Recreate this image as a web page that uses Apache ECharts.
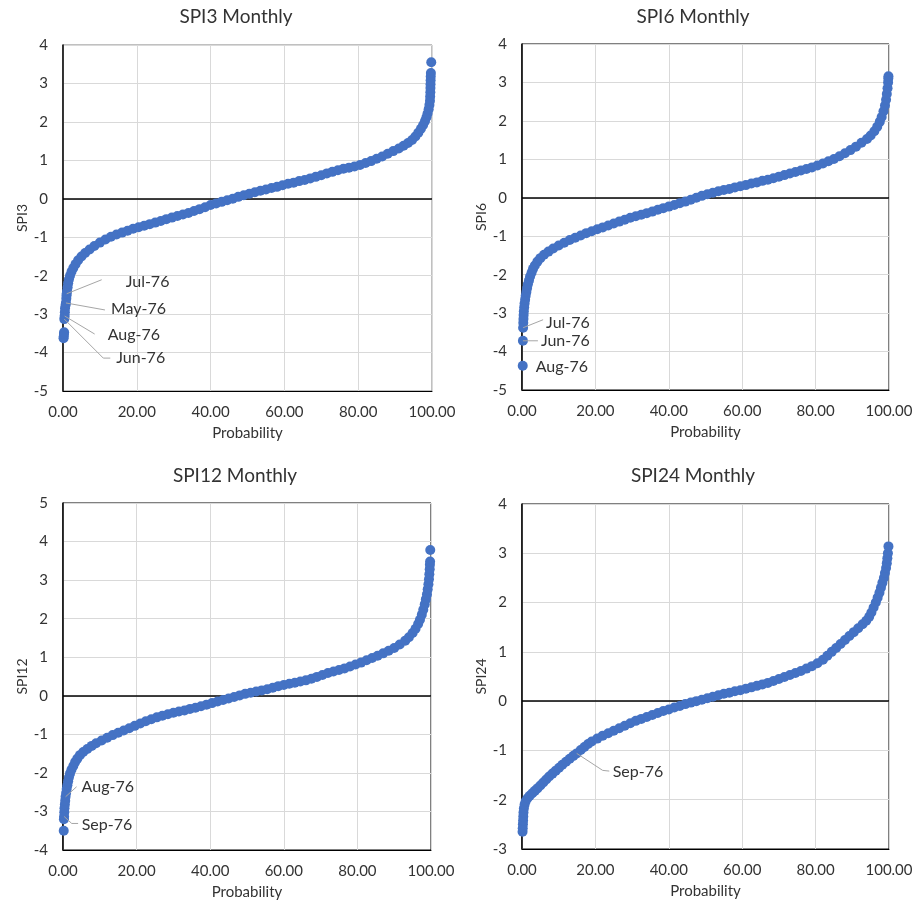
<!DOCTYPE html>
<html><head><meta charset="utf-8">
<script src="https://cdn.jsdelivr.net/npm/echarts@6/dist/echarts.min.js"></script>
<style>html,body{margin:0;padding:0;background:#fff}#c{width:916px;height:908px}</style>
</head><body><div id="c"></div>
<script>
// ---------------- data ----------------
const panelTitles = ['SPI3 Monthly', 'SPI6 Monthly', 'SPI12 Monthly', 'SPI24 Monthly'];
const yAxisNames = ['SPI3', 'SPI6', 'SPI12', 'SPI24'];
const xAxisName = 'Probability';
const xMin = 0, xMax = 100, xStep = 20;
const yMins = [-5, -5, -4, -3];
const yMaxs = [4, 4, 5, 4];

const spi3Points = [
 [0.15,-3.63],[0.2,-3.58],[0.25,-3.52],[0.3,-3.47],
 [0.35,-3.13],[0.45,-3.05],[0.5,-2.95],[0.55,-2.85],[0.7,-2.76],[0.8,-2.71],[0.9,-2.6],[0.95,-2.52],[1.0,-2.47],[1.1,-2.4],
 [1.25,-2.3],[1.4,-2.2],[1.6,-2.1],[1.9,-2.0],[2.3,-1.9],[2.8,-1.8],[3.4,-1.7],[4.1,-1.6],[5.0,-1.5],[6.0,-1.41],[7.2,-1.32],
 [8.5,-1.23],[10,-1.14],[11.5,-1.06],[13,-0.99],[14.5,-0.93],[16,-0.88],[17.5,-0.83],[19,-0.78],[20.5,-0.74],[22,-0.7],
 [23.5,-0.66],[25,-0.62],[26.5,-0.58],[28,-0.53],[29.5,-0.49],[31,-0.45],[32.5,-0.41],[34,-0.37],[35.5,-0.32],[37,-0.27],
 [38.5,-0.22],[40,-0.16],[41.5,-0.12],[43,-0.08],[44.5,-0.04],[46,0.0],[47.5,0.05],[49,0.09],[50.5,0.13],[52,0.17],
 [53.5,0.21],[55,0.24],[56.5,0.28],[58,0.31],[59.5,0.35],[61,0.39],[62.5,0.42],[64,0.46],[65.5,0.49],[67,0.53],[68.5,0.57],
 [70,0.61],[71.5,0.66],[73,0.7],[74.5,0.74],[76,0.78],[77.5,0.81],[79,0.84],[80.5,0.88],[82,0.93],[83.5,0.98],[85,1.04],
 [86.5,1.1],[88,1.17],[89.5,1.24],[91,1.31],[92.3,1.38],[93.5,1.45],[94.6,1.53],[95.5,1.62],[96.3,1.72],[97,1.82],[97.6,1.92],
 [98.1,2.02],[98.5,2.12],[98.8,2.22],[99.1,2.33],[99.3,2.44],[99.45,2.55],[99.5,2.66],[99.55,2.77],[99.58,2.88],[99.6,2.98],
 [99.63,3.08],[99.66,3.18],[99.7,3.27],[99.8,3.55]
];
const spi6Points = [
 [0.2,-4.37],[0.25,-3.72],[0.3,-3.38],
 [0.35,-3.25],[0.4,-3.15],[0.45,-3.05],[0.5,-2.95],[0.6,-2.85],[0.7,-2.75],[0.85,-2.65],[1.0,-2.55],[1.2,-2.45],[1.4,-2.35],
 [1.6,-2.25],[1.9,-2.15],[2.2,-2.05],[2.6,-1.95],[3.0,-1.85],[3.5,-1.76],[4.2,-1.66],[5.0,-1.57],[6.0,-1.48],[7.2,-1.4],
 [8.5,-1.32],[10,-1.24],[11.5,-1.17],[13,-1.1],[14.5,-1.04],[16,-0.98],[17.5,-0.92],[19,-0.87],[20.5,-0.82],[22,-0.77],
 [23.5,-0.72],[25,-0.67],[26.5,-0.62],[28,-0.57],[29.5,-0.52],[31,-0.48],[32.5,-0.44],[34,-0.4],[35.5,-0.36],[37,-0.31],
 [38.5,-0.27],[40,-0.23],[41.5,-0.19],[43,-0.14],[44.5,-0.1],[46,-0.05],[47.5,0.0],[49,0.05],[50.5,0.09],[52,0.13],
 [53.5,0.17],[55,0.2],[56.5,0.23],[58,0.27],[59.5,0.3],[61,0.33],[62.5,0.37],[64,0.4],[65.5,0.44],[67,0.47],[68.5,0.51],
 [70,0.55],[71.5,0.59],[73,0.63],[74.5,0.67],[76,0.71],[77.5,0.75],[79,0.79],[80.5,0.84],[82,0.89],[83.5,0.95],[85,1.01],
 [86.5,1.08],[88,1.16],[89.5,1.24],[91,1.33],[92.5,1.43],[94,1.53],[95,1.62],[96,1.73],[96.8,1.85],[97.5,1.98],[98,2.1],
 [98.5,2.25],[98.9,2.4],[99.2,2.55],[99.4,2.7],[99.6,2.85],[99.75,3.0],[99.8,3.1],[99.85,3.16]
];
const spi12Points = [
 [0.2,-3.5],[0.25,-3.2],[0.3,-3.13],[0.35,-3.02],[0.4,-2.92],[0.5,-2.82],[0.6,-2.72],[0.7,-2.62],[0.85,-2.52],[1.0,-2.42],
 [1.2,-2.32],[1.4,-2.22],[1.6,-2.12],[1.9,-2.02],[2.3,-1.92],[2.8,-1.82],[3.3,-1.72],[3.9,-1.63],[4.6,-1.54],[5.5,-1.46],
 [6.6,-1.38],[7.8,-1.3],[9,-1.23],[10.5,-1.16],[12,-1.09],[13.5,-1.02],[15,-0.96],[16.5,-0.9],[18,-0.84],[19.5,-0.78],
 [21,-0.72],[22.5,-0.66],[24,-0.61],[25.5,-0.56],[27,-0.52],[28.5,-0.48],[30,-0.44],[31.5,-0.41],[33,-0.38],[34.5,-0.34],
 [36,-0.31],[37.5,-0.27],[39,-0.23],[40.5,-0.19],[42,-0.15],[43.5,-0.11],[45,-0.07],[46.5,-0.03],[48,0.01],[49.5,0.05],
 [51,0.08],[52.5,0.11],[54,0.14],[55.5,0.17],[57,0.21],[58.5,0.25],[60,0.28],[61.5,0.31],[63,0.34],[64.5,0.37],[66,0.4],
 [67.5,0.44],[69,0.49],[70.5,0.54],[72,0.59],[73.5,0.63],[75,0.67],[76.5,0.71],[78,0.76],[79.5,0.81],[81,0.86],[82.5,0.92],
 [84,0.98],[85.5,1.04],[87,1.1],[88.5,1.17],[90,1.24],[91.5,1.33],[93,1.43],[94,1.52],[95,1.63],[95.8,1.74],[96.5,1.86],
 [97,1.97],[97.5,2.1],[97.9,2.23],[98.3,2.37],[98.6,2.5],[98.9,2.63],[99.1,2.76],[99.3,2.89],[99.45,3.02],[99.55,3.15],
 [99.65,3.28],[99.7,3.4],[99.75,3.48],[99.8,3.78]
];
const spi24Points = [
 [0.15,-2.65],[0.2,-2.58],[0.25,-2.5],[0.3,-2.42],[0.35,-2.34],[0.4,-2.26],[0.5,-2.18],[0.7,-2.1],[1.0,-2.03],[1.5,-1.97],
 [2.1,-1.92],[2.8,-1.87],[3.5,-1.82],[4.2,-1.77],[5.0,-1.71],[5.8,-1.65],[6.6,-1.59],[7.4,-1.53],[8.3,-1.47],[9.2,-1.41],
 [10.1,-1.35],[11,-1.29],[12,-1.23],[13,-1.17],[14,-1.11],[14.9,-1.06],[16,-0.99],[17,-0.93],[18,-0.87],[19,-0.82],[20.5,-0.76],
 [22,-0.7],[23.5,-0.65],[25,-0.6],[26.5,-0.55],[28,-0.5],[29.5,-0.45],[31,-0.4],[32.5,-0.36],[34,-0.32],[35.5,-0.28],
 [37,-0.24],[38.5,-0.2],[40,-0.17],[41.5,-0.13],[43,-0.1],[44.5,-0.06],[46,-0.03],[47.5,0.0],[49,0.03],[50.5,0.06],[52,0.09],
 [53.5,0.12],[55,0.15],[56.5,0.17],[58,0.2],[59.5,0.22],[61,0.25],[62.5,0.28],[64,0.31],[65.5,0.34],[67,0.37],[68.5,0.41],
 [70,0.45],[71.5,0.49],[73,0.53],[74.5,0.57],[76,0.61],[77.5,0.66],[79,0.71],[80.5,0.77],[82,0.84],[83.2,0.92],[84.4,1.0],
 [85.6,1.08],[86.8,1.16],[88,1.24],[89.2,1.32],[90.4,1.4],[91.6,1.48],[92.8,1.56],[93.8,1.63],[94.6,1.71],[95.2,1.8],
 [95.8,1.9],[96.4,2.0],[96.9,2.1],[97.4,2.2],[97.8,2.3],[98.2,2.4],[98.6,2.5],[98.9,2.6],[99.2,2.7],[99.4,2.8],[99.55,2.9],
 [99.7,3.0],[99.85,3.14]
];

// labelled months (name, [probability, SPI])
const spi3NoteNames = ['Jul-76', 'May-76', 'Aug-76', 'Jun-76'];
const spi3NotePoints = [[1.0,-2.47],[0.8,-2.71],[0.45,-3.05],[0.35,-3.13]];
const spi6NoteNames = ['Jul-76', 'Jun-76', 'Aug-76'];
const spi6NotePoints = [[0.3,-3.38],[0.25,-3.72],[0.2,-4.37]];
const spi12NoteNames = ['Aug-76', 'Sep-76'];
const spi12NotePoints = [[0.7,-2.62],[0.3,-3.13]];
const spi24NoteNames = ['Sep-76'];
const spi24NotePoints = [[14.9,-1.06]];

// ---------------- layout / style ----------------
const FONT = 'Lato';
const TXT = '#333333';
const BLUE = '#4472C4';
const grids = [
  {left: 63, top: 45, width: 369, height: 346, borderColor: '#808080'},
  {left: 522, top: 44, width: 367, height: 346, borderColor: '#000'},
  {left: 63, top: 503, width: 368, height: 347, borderColor: '#000'},
  {left: 522, top: 504, width: 367, height: 345, borderColor: '#000'}
];
const titlePos = [[236, 7], [693, 7], [235, 466], [693, 466]];
// leader-line bends and text anchors, relative to the labelled point (pixels)
const noteLayouts = [
  [ {line: [[35,-14]], text: [59,-12]},
    {line: [[39,7]], text: [45,6]},
    {line: [[30,18]], text: [43,19]},
    {line: [[39,39],[46,39]], text: [52,39]} ],
  [ {line: [[20,-8]], text: [23,-5]},
    {line: [[15,0]], text: [18,0]},
    {line: [], text: [13,1]} ],
  [ {line: [[11,-10]], text: [16,-9.5]},
    {line: [[7.6,7],[14,7]], text: [17.6,8]} ],
  [ {line: [[26,17],[32.6,17.7]], text: [36,18.4]} ]
];

const allPoints = [spi3Points, spi6Points, spi12Points, spi24Points];
const allNoteNames = [spi3NoteNames, spi6NoteNames, spi12NoteNames, spi24NoteNames];
const allNotePoints = [spi3NotePoints, spi6NotePoints, spi12NotePoints, spi24NotePoints];

const chart = echarts.init(document.getElementById('c'), null, {renderer: 'canvas'});

const option = {
  animation: false,
  backgroundColor: '#fff',
  title: panelTitles.map((t, i) => ({
    text: t, left: titlePos[i][0], top: titlePos[i][1], textAlign: 'center', padding: 0,
    textStyle: {fontFamily: FONT, fontSize: 19, fontWeight: 'normal', color: TXT}
  })),
  grid: grids.map(g => ({left: g.left, top: g.top, width: g.width, height: g.height,
    show: true, borderColor: g.borderColor, borderWidth: 1, containLabel: false})),
  xAxis: grids.map((g, i) => ({
    type: 'value', gridIndex: i, min: xMin, max: xMax, interval: xStep,
    name: xAxisName, nameLocation: 'middle', nameGap: 35,
    nameTextStyle: {fontFamily: FONT, fontSize: 15, color: TXT},
    axisLine: {show: true, onZero: false, lineStyle: {color: '#000', width: 1}},
    axisTick: {show: false},
    axisLabel: {fontFamily: FONT, fontSize: 15, color: TXT, margin: 14, formatter: v => v.toFixed(2)},
    splitLine: {show: true, lineStyle: {color: '#d9d9d9', width: 1}}
  })),
  yAxis: grids.map((g, i) => ({
    type: 'value', gridIndex: i, min: yMins[i], max: yMaxs[i], interval: 1,
    name: yAxisNames[i], nameLocation: 'middle', nameGap: 33, nameRotate: 90,
    nameTextStyle: {fontFamily: FONT, fontSize: 14, color: TXT},
    axisLine: {show: true, onZero: false, lineStyle: {color: '#000', width: 1.5}},
    axisTick: {show: false},
    axisLabel: {fontFamily: FONT, fontSize: 15, color: TXT, margin: 15},
    splitLine: {show: true, lineStyle: {color: '#d9d9d9', width: 1}}
  })),
  series: allPoints.map((pts, i) => ({
    type: 'scatter', xAxisIndex: i, yAxisIndex: i, data: pts,
    symbol: 'circle', symbolSize: 10, z: 3,
    itemStyle: {color: BLUE, opacity: 1},
    emphasis: {disabled: true},
    markLine: {
      silent: true, z: 1, symbol: ['none', 'none'], animation: false,
      label: {show: false},
      lineStyle: {color: '#000', width: 1.5, type: 'solid'},
      data: [{yAxis: 0}]
    }
  }))
};
chart.setOption(option);

// labels with leader lines, positioned from the library's own scales
const graphics = [];
allNotePoints.forEach((pts, i) => {
  pts.forEach((p, k) => {
    const px = chart.convertToPixel({gridIndex: i}, p);
    const lay = noteLayouts[i][k];
    if (lay.line.length) {
      const linePts = [[px[0], px[1]]].concat(lay.line.map(d => [px[0] + d[0], px[1] + d[1]]));
      graphics.push({type: 'polyline', z: 10, silent: true,
        shape: {points: linePts}, style: {stroke: '#a6a6a6', lineWidth: 1, fill: null}});
    }
    graphics.push({type: 'text', z: 10, silent: true,
      x: px[0] + lay.text[0], y: px[1] + lay.text[1],
      style: {text: allNoteNames[i][k], fill: TXT, fontFamily: FONT, fontSize: 16,
        align: 'left', verticalAlign: 'middle'}});
  });
});
chart.setOption({graphic: graphics});
</script>
</body></html>
